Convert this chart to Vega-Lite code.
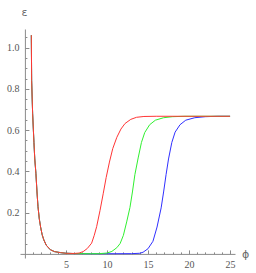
{
  "$schema": "https://vega.github.io/schema/vega-lite/v6.json",
  "width": 215,
  "height": 229,
  "autosize": {"type": "none"},
  "padding": {"left": 20, "top": 29, "right": 21, "bottom": 15},
  "background": "white",
  "config": {
    "view": {"stroke": null},
    "axis": {"grid": false, "labelFont": "Liberation Sans Narrow", "labelFontSize": 10, "labelColor": "#555555", "domainColor": "#8a8a8a", "tickColor": "#8a8a8a", "titleFont": "DejaVu Sans", "titleFontWeight": "normal", "titleFontSize": 11, "titleColor": "#666666"}
  },
  "datasets": {
    "curves": [
      {"s": "b", "phi": 0.78, "eps": 1.06}, {"s": "b", "phi": 0.82, "eps": 0.84}, {"s": "b", "phi": 0.94, "eps": 0.68}, {"s": "b", "phi": 1.1, "eps": 0.54}, {"s": "b", "phi": 1.2, "eps": 0.46}, {"s": "b", "phi": 1.34, "eps": 0.39}, {"s": "b", "phi": 1.47, "eps": 0.3}, {"s": "b", "phi": 1.59, "eps": 0.23}, {"s": "b", "phi": 1.75, "eps": 0.17}, {"s": "b", "phi": 1.91, "eps": 0.13}, {"s": "b", "phi": 2.1, "eps": 0.093}, {"s": "b", "phi": 2.3, "eps": 0.068}, {"s": "b", "phi": 2.6, "eps": 0.042}, {"s": "b", "phi": 3.1, "eps": 0.02}, {"s": "b", "phi": 3.6, "eps": 0.011}, {"s": "b", "phi": 4.35, "eps": 0.006}, {"s": "b", "phi": 5, "eps": 0.003}, {"s": "b", "phi": 6, "eps": 0.0015}, {"s": "b", "phi": 8, "eps": 0.0008}, {"s": "b", "phi": 11, "eps": 0.0008}, {"s": "b", "phi": 13, "eps": 0.001}, {"s": "b", "phi": 14, "eps": 0.003}, {"s": "b", "phi": 14.4, "eps": 0.008}, {"s": "b", "phi": 15.0, "eps": 0.025}, {"s": "b", "phi": 15.6, "eps": 0.061}, {"s": "b", "phi": 16.1, "eps": 0.13}, {"s": "b", "phi": 16.6, "eps": 0.223}, {"s": "b", "phi": 16.9, "eps": 0.3}, {"s": "b", "phi": 17.2, "eps": 0.384}, {"s": "b", "phi": 17.5, "eps": 0.46}, {"s": "b", "phi": 17.9, "eps": 0.54}, {"s": "b", "phi": 18.3, "eps": 0.59}, {"s": "b", "phi": 18.9, "eps": 0.626}, {"s": "b", "phi": 19.6, "eps": 0.648}, {"s": "b", "phi": 20.7, "eps": 0.66}, {"s": "b", "phi": 22, "eps": 0.665}, {"s": "b", "phi": 23.5, "eps": 0.667}, {"s": "b", "phi": 25, "eps": 0.667},

      {"s": "g", "phi": 0.78, "eps": 1.06}, {"s": "g", "phi": 0.82, "eps": 0.84}, {"s": "g", "phi": 0.94, "eps": 0.68}, {"s": "g", "phi": 1.1, "eps": 0.54}, {"s": "g", "phi": 1.2, "eps": 0.46}, {"s": "g", "phi": 1.34, "eps": 0.39}, {"s": "g", "phi": 1.47, "eps": 0.3}, {"s": "g", "phi": 1.59, "eps": 0.23}, {"s": "g", "phi": 1.75, "eps": 0.17}, {"s": "g", "phi": 1.91, "eps": 0.13}, {"s": "g", "phi": 2.1, "eps": 0.093}, {"s": "g", "phi": 2.3, "eps": 0.068}, {"s": "g", "phi": 2.6, "eps": 0.042}, {"s": "g", "phi": 3.1, "eps": 0.02}, {"s": "g", "phi": 3.6, "eps": 0.011}, {"s": "g", "phi": 4.35, "eps": 0.006}, {"s": "g", "phi": 5, "eps": 0.003}, {"s": "g", "phi": 6, "eps": 0.0015}, {"s": "g", "phi": 8, "eps": 0.0008}, {"s": "g", "phi": 9, "eps": 0.001}, {"s": "g", "phi": 10, "eps": 0.004}, {"s": "g", "phi": 10.6, "eps": 0.012}, {"s": "g", "phi": 11.2, "eps": 0.03}, {"s": "g", "phi": 11.6, "eps": 0.05}, {"s": "g", "phi": 12.0, "eps": 0.09}, {"s": "g", "phi": 12.4, "eps": 0.155}, {"s": "g", "phi": 12.8, "eps": 0.225}, {"s": "g", "phi": 13.1, "eps": 0.3}, {"s": "g", "phi": 13.4, "eps": 0.384}, {"s": "g", "phi": 13.8, "eps": 0.465}, {"s": "g", "phi": 14.2, "eps": 0.54}, {"s": "g", "phi": 14.6, "eps": 0.588}, {"s": "g", "phi": 15.2, "eps": 0.626}, {"s": "g", "phi": 15.9, "eps": 0.648}, {"s": "g", "phi": 16.9, "eps": 0.66}, {"s": "g", "phi": 18, "eps": 0.665}, {"s": "g", "phi": 19.5, "eps": 0.667}, {"s": "g", "phi": 25, "eps": 0.667},

      {"s": "r", "phi": 0.78, "eps": 1.06}, {"s": "r", "phi": 0.82, "eps": 0.84}, {"s": "r", "phi": 0.94, "eps": 0.68}, {"s": "r", "phi": 1.1, "eps": 0.54}, {"s": "r", "phi": 1.2, "eps": 0.46}, {"s": "r", "phi": 1.34, "eps": 0.39}, {"s": "r", "phi": 1.47, "eps": 0.3}, {"s": "r", "phi": 1.59, "eps": 0.23}, {"s": "r", "phi": 1.75, "eps": 0.17}, {"s": "r", "phi": 1.91, "eps": 0.13}, {"s": "r", "phi": 2.1, "eps": 0.093}, {"s": "r", "phi": 2.3, "eps": 0.068}, {"s": "r", "phi": 2.6, "eps": 0.042}, {"s": "r", "phi": 3.1, "eps": 0.02}, {"s": "r", "phi": 3.6, "eps": 0.011}, {"s": "r", "phi": 4.35, "eps": 0.006}, {"s": "r", "phi": 5, "eps": 0.003}, {"s": "r", "phi": 6, "eps": 0.002}, {"s": "r", "phi": 6.6, "eps": 0.004}, {"s": "r", "phi": 7.1, "eps": 0.011}, {"s": "r", "phi": 7.6, "eps": 0.026}, {"s": "r", "phi": 8.13, "eps": 0.052}, {"s": "r", "phi": 8.45, "eps": 0.09}, {"s": "r", "phi": 8.74, "eps": 0.132}, {"s": "r", "phi": 9.15, "eps": 0.21}, {"s": "r", "phi": 9.55, "eps": 0.294}, {"s": "r", "phi": 9.9, "eps": 0.37}, {"s": "r", "phi": 10.3, "eps": 0.445}, {"s": "r", "phi": 10.7, "eps": 0.51}, {"s": "r", "phi": 11.2, "eps": 0.565}, {"s": "r", "phi": 11.7, "eps": 0.605}, {"s": "r", "phi": 12.2, "eps": 0.632}, {"s": "r", "phi": 12.9, "eps": 0.652}, {"s": "r", "phi": 13.6, "eps": 0.662}, {"s": "r", "phi": 14.5, "eps": 0.666}, {"s": "r", "phi": 16, "eps": 0.667}, {"s": "r", "phi": 25, "eps": 0.667}
    ]
  },
  "data": {"name": "curves"},
  "resolve": {"axis": {"x": "independent", "y": "independent"}},
  "encoding": {
    "x": {"field": "phi", "type": "quantitative", "scale": {"domain": [-0.6, 25.6], "nice": false, "zero": false}},
    "y": {"field": "eps", "type": "quantitative", "scale": {"domain": [-0.02, 1.09], "nice": false, "zero": false}}
  },
  "layer": [
    {
      "transform": [{"filter": "datum.s === 'b'"}],
      "mark": {"type": "line", "color": "#3030ff", "strokeWidth": 1, "clip": true},
      "encoding": {
        "x": {"field": "phi", "type": "quantitative", "axis": {"orient": "bottom", "offset": -4.1, "values": [5, 10, 15, 20, 25], "tickSize": -4, "labelPadding": 10, "title": "ϕ", "titleX": 225, "titleY": 1, "titleAlign": "center", "titleBaseline": "middle", "titleAnchor": null}},
        "y": {"field": "eps", "type": "quantitative", "axis": {"orient": "left", "offset": -4.9, "values": [0.2, 0.4, 0.6, 0.8, 1], "tickSize": -4, "labelPadding": 10, "title": "ε", "titleAngle": 0, "titleX": -1, "titleY": -17, "titleAlign": "center", "titleBaseline": "middle", "titleAnchor": null}}
      }
    },
    {
      "transform": [{"filter": "datum.s === 'g'"}],
      "mark": {"type": "line", "color": "#30f030", "strokeWidth": 1, "clip": true},
      "encoding": {
        "x": {"field": "phi", "type": "quantitative", "axis": {"orient": "bottom", "offset": -4.1, "values": [1,2,3,4,6,7,8,9,11,12,13,14,16,17,18,19,21,22,23,24], "tickSize": -2, "labels": false, "domain": false, "title": null}},
        "y": {"field": "eps", "type": "quantitative", "axis": {"orient": "left", "offset": -4.9, "values": [0.05,0.1,0.15,0.25,0.3,0.35,0.45,0.5,0.55,0.65,0.7,0.75,0.85,0.9,0.95,1.05], "tickSize": -2, "labels": false, "domain": false, "title": null}}
      }
    },
    {
      "transform": [{"filter": "datum.s === 'r'"}],
      "mark": {"type": "line", "color": "#ff3535", "strokeWidth": 1, "clip": true},
      "encoding": {
        "x": {"field": "phi", "type": "quantitative", "axis": null},
        "y": {"field": "eps", "type": "quantitative", "axis": null}
      }
    }
  ]
}
